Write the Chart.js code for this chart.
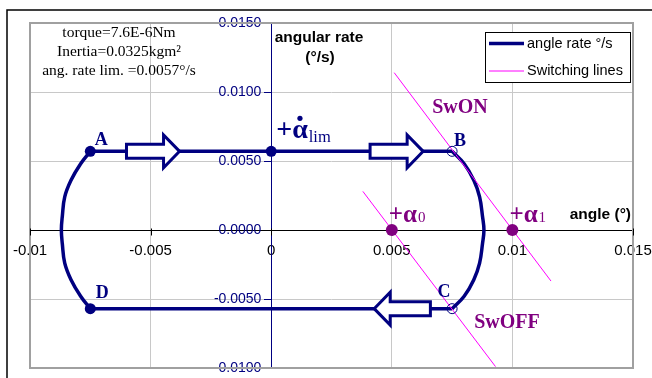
<!DOCTYPE html>
<html>
<head>
<meta charset="utf-8">
<script src="https://cdn.jsdelivr.net/npm/chart.js@4.4.0/dist/chart.umd.min.js"></script>
<style>
  html, body { margin: 0; padding: 0; background: #fff; }
  canvas { display: block; }
</style>
</head>
<body>
<canvas id="c" width="652" height="378"></canvas>
<script>
// ── Data (angle °, angular rate °/s) ──
const upperRunX = [-0.0075, 0.0075];
const upperRunY = [0.0057, 0.0057];

const brakeArcX = [0.0075, 0.0080, 0.0084, 0.00864, 0.00876, 0.00882, 0.00876, 0.00864, 0.0084, 0.0080, 0.0075];
const brakeArcY = [0.0057, 0.0048, 0.0036, 0.0024, 0.0010, 0, -0.0010, -0.0024, -0.0036, -0.0048, -0.0057];

const lowerRunX = [0.0075, -0.0075];
const lowerRunY = [-0.0057, -0.0057];

const returnArcX = [-0.0075, -0.0079, -0.0083, -0.00856, -0.00866, -0.0087, -0.00866, -0.00856, -0.0083, -0.0079, -0.0075];
const returnArcY = [-0.0057, -0.0048, -0.0036, -0.0024, -0.0010, 0, 0.0010, 0.0024, 0.0036, 0.0048, 0.0057];

const swOnX = [0.0051, 0.0116];
const swOnY = [0.0114, -0.0037];
const swOffX = [0.0038, 0.0093];
const swOffY = [0.0028, -0.0099];

// A, +alpha-dot-lim, D
const solidPtX = [-0.0075, 0, -0.0075];
const solidPtY = [0.0057, 0.0057, -0.0057];
// B, C
const openPtX = [0.0075, 0.0075];
const openPtY = [0.0057, -0.0057];
// alpha0, alpha1
const alphaPtX = [0.005, 0.01];
const alphaPtY = [0, 0];

// block arrows: start angle, tip angle, rate
const arrowFrom = [-0.0060, 0.0041, 0.0066];
const arrowTo   = [-0.0038, 0.0063, 0.00427];
const arrowAt   = [0.0057, 0.0057, -0.0057];

const infoLines = ['torque=7.6E-6Nm', 'Inertia=0.0325kgm\u00b2', 'ang. rate lim. =0.0057\u00b0/s'];

const NAVY = '#000080', MAG = '#ff00ff', PURP = '#800080';
const SANS = '"Liberation Sans", Arial, sans-serif';
const SERIF = '"Liberation Serif", "Times New Roman", serif';

const zip = (xs, ys) => xs.map((x, i) => ({ x, y: ys[i] }));

function trail(label, xs, ys, tension) {
  return { label, data: zip(xs, ys), showLine: true, borderColor: NAVY, backgroundColor: NAVY,
    borderWidth: 3.5, pointRadius: 0, tension, order: 5 };
}

// ── Decorations ──
function blockArrow(ctx, x0, x1, y) {
  const dir = Math.sign(x1 - x0), hl = 16, bh = 7, hh = 16.5;
  const xb = x1 - dir * hl;
  ctx.beginPath();
  ctx.moveTo(x0, y - bh); ctx.lineTo(xb, y - bh); ctx.lineTo(xb, y - hh);
  ctx.lineTo(x1, y); ctx.lineTo(xb, y + hh); ctx.lineTo(xb, y + bh);
  ctx.lineTo(x0, y + bh); ctx.closePath();
  ctx.fillStyle = '#fff'; ctx.fill();
  ctx.lineWidth = 3; ctx.lineJoin = 'miter'; ctx.strokeStyle = NAVY; ctx.stroke();
}

function txt(ctx, s, x, y, font, color, align, base) {
  ctx.font = font; ctx.fillStyle = color;
  ctx.textAlign = align || 'left'; ctx.textBaseline = base || 'middle';
  ctx.fillText(s, x, y);
  return ctx.measureText(s).width;
}

const deco = {
  id: 'deco',
  beforeDraw(chart) {
    const { ctx } = chart;
    ctx.save();
    ctx.fillStyle = '#fff'; ctx.fillRect(0, 0, chart.width, chart.height);
    ctx.strokeStyle = '#000'; ctx.lineWidth = 1.5;
    ctx.beginPath(); ctx.moveTo(7, chart.height); ctx.lineTo(7, 10); ctx.lineTo(chart.width, 10); ctx.stroke();
    ctx.restore();
  },
  beforeDatasetsDraw(chart) {
    const { ctx, chartArea: a, scales: { x, y } } = chart;
    ctx.save();
    ctx.strokeStyle = '#a0a0a0'; ctx.lineWidth = 2;
    ctx.strokeRect(a.left, a.top, a.right - a.left, a.bottom - a.top);
    // short tick marks on the angle axis (the scale's own ticks are hidden to leave room for labels)
    const y0 = Math.round(y.getPixelForValue(0)) + 0.5;
    ctx.strokeStyle = '#000'; ctx.lineWidth = 1;
    x.ticks.forEach(t => {
      const xp = Math.round(x.getPixelForValue(t.value)) + 0.5;
      ctx.beginPath(); ctx.moveTo(xp, y0 - 2); ctx.lineTo(xp, y0 + 5); ctx.stroke();
    });
    ctx.restore();
  },
  afterDatasetsDraw(chart) {
    const { ctx, scales: { x, y } } = chart;
    ctx.save();
    arrowFrom.forEach((f, i) => blockArrow(ctx, x.getPixelForValue(f), x.getPixelForValue(arrowTo[i]), y.getPixelForValue(arrowAt[i])));
    ctx.restore();
  },
  afterDraw(chart) {
    const { ctx, scales: { x, y } } = chart;
    const px = v => x.getPixelForValue(v), py = v => y.getPixelForValue(v);
    ctx.save();

    // parameter notes
    infoLines.forEach((s, i) => txt(ctx, s, 119, 33 + i * 19, '15.5px ' + SERIF, '#000', 'center'));

    // axis titles
    txt(ctx, 'angular rate', 319, 38, 'bold 15.5px ' + SANS, '#000', 'center');
    txt(ctx, '(\u00b0/s)', 320, 58, 'bold 15.5px ' + SANS, '#000', 'center');
    txt(ctx, 'angle (\u00b0)', 631, 215, 'bold 15.5px ' + SANS, '#000', 'right');

    // point letters
    const lf = 'bold 18px ' + SERIF;
    txt(ctx, 'A', px(solidPtX[0]) + 11, py(solidPtY[0]) - 11, lf, NAVY, 'center');
    txt(ctx, 'B', px(openPtX[0]) + 8, py(openPtY[0]) - 10, lf, NAVY, 'center');
    txt(ctx, 'C', px(openPtX[1]) - 8, py(openPtY[1]) - 16, lf, NAVY, 'center');
    txt(ctx, 'D', px(solidPtX[2]) + 12, py(solidPtY[2]) - 15, lf, NAVY, 'center');

    // switching labels
    txt(ctx, 'SwON', 460, 108, 'bold 20px ' + SERIF, PURP, 'center');
    txt(ctx, 'SwOFF', 507, 323, 'bold 20px ' + SERIF, PURP, 'center');

    // +alpha0 / +alpha1
    ['0', '1'].forEach((sub, i) => {
      const x0 = px(alphaPtX[i]) - 3, base = py(alphaPtY[i]) - 8;
      const w = txt(ctx, '+\u03b1', x0, base, 'bold 25px ' + SERIF, PURP, 'left', 'alphabetic');
      txt(ctx, sub, x0 + w + 1, base, '15px ' + SERIF, PURP, 'left', 'alphabetic');
    });

    // +alpha-dot lim
    const lx = px(solidPtX[1]) + 5, lb = py(solidPtY[1]) - 13;
    const wp = txt(ctx, '+', lx, lb, 'bold 28px ' + SERIF, NAVY, 'left', 'alphabetic');
    const wa = txt(ctx, '\u03b1', lx + wp, lb, 'bold 28px ' + SERIF, NAVY, 'left', 'alphabetic');
    ctx.beginPath(); ctx.arc(lx + wp + wa / 2, lb - 20, 2.6, 0, Math.PI * 2); ctx.fillStyle = NAVY; ctx.fill();
    txt(ctx, 'lim', lx + wp + wa + 1, lb + 4, '16.5px ' + SERIF, NAVY, 'left', 'alphabetic');

    // legend
    ctx.fillStyle = '#fff'; ctx.fillRect(485.5, 32.5, 145, 50);
    ctx.strokeStyle = '#000'; ctx.lineWidth = 1; ctx.strokeRect(485.5, 32.5, 145, 50);
    ctx.strokeStyle = NAVY; ctx.lineWidth = 3.5;
    ctx.beginPath(); ctx.moveTo(489, 43.5); ctx.lineTo(524, 43.5); ctx.stroke();
    ctx.strokeStyle = MAG; ctx.lineWidth = 1;
    ctx.beginPath(); ctx.moveTo(489, 71); ctx.lineTo(524, 71); ctx.stroke();
    txt(ctx, 'angle rate \u00b0/s', 527, 44, '14.5px ' + SANS, '#000', 'left');
    txt(ctx, 'Switching lines', 527, 71, '14.5px ' + SANS, '#000', 'left');

    ctx.restore();
  }
};

const noZero = c => (Math.abs(c.tick.value) < 1e-9 ? 'rgba(0,0,0,0)' : '#c8c8c8');

new Chart(document.getElementById('c'), {
  type: 'scatter',
  data: {
    datasets: [
      trail('angle rate \u00b0/s', upperRunX, upperRunY, 0),
      trail('brake arc', brakeArcX, brakeArcY, 0.4),
      trail('lower run', lowerRunX, lowerRunY, 0),
      trail('return arc', returnArcX, returnArcY, 0.4),
      { label: 'Switching lines', data: zip(swOnX, swOnY), showLine: true, borderColor: MAG, borderWidth: 1, pointRadius: 0, order: 4 },
      { label: 'sw off', data: zip(swOffX, swOffY), showLine: true, borderColor: MAG, borderWidth: 1, pointRadius: 0, order: 4 },
      { label: 'solid', data: zip(solidPtX, solidPtY), pointRadius: 5.5, backgroundColor: NAVY, borderColor: NAVY, borderWidth: 0, order: 2 },
      { label: 'open', data: zip(openPtX, openPtY), pointRadius: 5, backgroundColor: 'rgba(0,0,0,0)', borderColor: NAVY, borderWidth: 1, order: 1 },
      { label: 'alpha', data: zip(alphaPtX, alphaPtY), pointRadius: 6, backgroundColor: PURP, borderColor: PURP, borderWidth: 0, order: 1 }
    ]
  },
  options: {
    responsive: false,
    animation: false,
    events: [],
    layout: { padding: { left: 30, top: 23, right: 19, bottom: 10 } },
    plugins: { legend: { display: false }, tooltip: { enabled: false } },
    scales: {
      x: {
        type: 'linear', min: -0.01, max: 0.015, position: { y: 0 },
        ticks: { stepSize: 0.005, color: '#000', padding: 0, font: { family: SANS, size: 15 },
          callback: v => String(+(+v).toFixed(3)) },
        grid: { color: noZero, tickColor: 'rgba(0,0,0,0)', tickLength: 12 },
        border: { color: '#000', width: 1 }
      },
      y: {
        type: 'linear', min: -0.01, max: 0.015, position: { x: 0 },
        // labels sit flush on the axis when it is value-positioned, so pad with trailing space
        ticks: { stepSize: 0.005, color: NAVY, padding: 0, font: { family: SANS, size: 14 },
          callback: v => (Math.abs(v) < 1e-9 ? 0 : v).toFixed(4) + '\u2002\u2009' },
        grid: { color: noZero, tickColor: NAVY, tickLength: 7 },
        border: { color: NAVY, width: 1 }
      }
    }
  },
  plugins: [deco]
});
</script>
</body>
</html>
